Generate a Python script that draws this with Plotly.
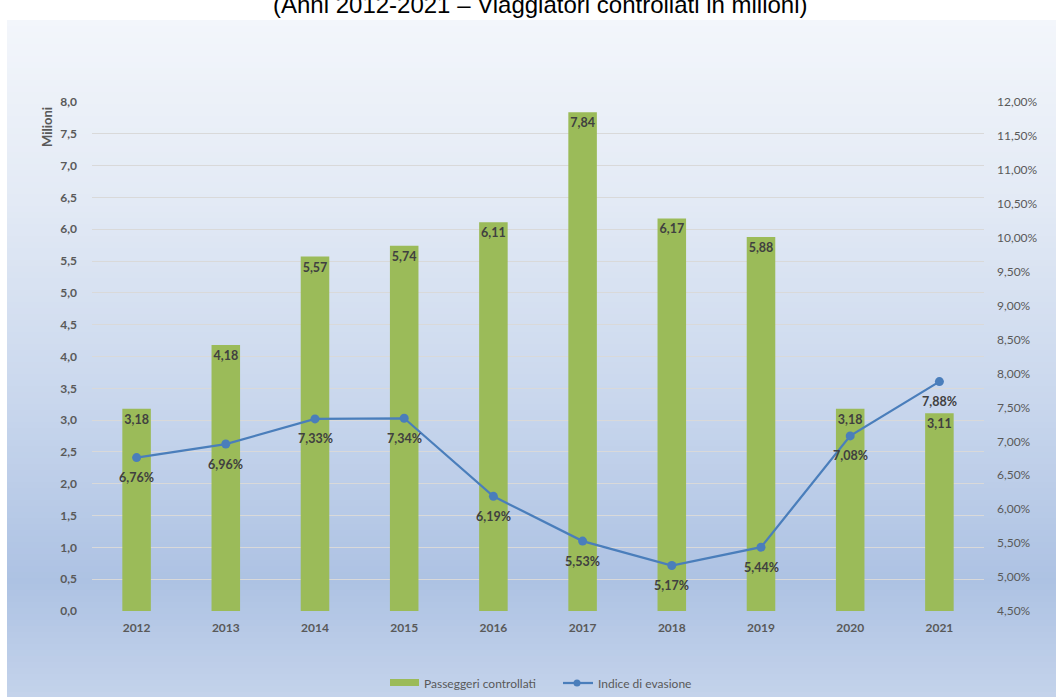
import plotly.graph_objects as go

# Chart data
years = ["2012", "2013", "2014", "2015", "2016", "2017", "2018", "2019", "2020", "2021"]
passeggeri = [3.18, 4.18, 5.57, 5.74, 6.11, 7.84, 6.17, 5.88, 3.18, 3.11]
indice_evasione = [6.76, 6.96, 7.33, 7.34, 6.19, 5.53, 5.17, 5.44, 7.08, 7.88]

W, H = 1056, 697
ML, MR, MT, MB = 92, 72, 102, 86
PW, PH = W - ML - MR, H - MT - MB

def px_x(px):
    return (px - ML) / PW

def px_y(py):
    return (H - MB - py) / PH

def it_num(v, dec):
    return f"{v:.{dec}f}".replace(".", ",")

GREEN = "#9bbb59"
BLUE = "#4a7ebb"
TXT = "#404040"
AX = "#595959"
FONT = "Lato, 'Open Sans', sans-serif"

fig = go.Figure()

fig.add_trace(go.Bar(
    x=years, y=passeggeri, name="Passeggeri controllati",
    marker=dict(color=GREEN, line=dict(width=0)),
    width=0.32,
    text=[it_num(v, 2) for v in passeggeri],
    textposition="inside", insidetextanchor="end", textangle=0,
    textfont=dict(family=FONT, size=12.5, color=TXT, weight="bold"),
    constraintext="none",
    yaxis="y", showlegend=False,
))

fig.add_trace(go.Scatter(
    x=years, y=[v / 100 for v in indice_evasione], name="Indice di evasione",
    mode="lines+markers",
    line=dict(color=BLUE, width=2.25),
    marker=dict(color=BLUE, size=9),
    yaxis="y2", showlegend=False,
))

annotations = []
# Percentage labels under each point of the line (category index on x)
for i, v in enumerate(indice_evasione):
    annotations.append(dict(
        x=i, y=v / 100, xref="x", yref="y2", text=it_num(v, 2) + "%",
        showarrow=False, yshift=-20, xanchor="center", yanchor="middle",
        font=dict(family=FONT, size=12.5, color=TXT, weight="bold"),
    ))

# Gradient backdrop built from thin horizontal strips
stops = [(20, (243, 246, 251)), (200, (227, 234, 245)), (400, (201, 215, 237)),
         (580, (173, 194, 227)), (697, (196, 211, 235))]

def color_at(py):
    for (y0, c0), (y1, c1) in zip(stops[:-1], stops[1:]):
        if y0 <= py <= y1:
            t = (py - y0) / (y1 - y0)
            return "rgb(%d,%d,%d)" % tuple(round(a + (b - a) * t) for a, b in zip(c0, c1))
    return "rgb(%d,%d,%d)" % stops[-1][1]

shapes = []
step = 6
py = 20
while py < H:
    y_top = py
    y_bot = min(py + step + 1, H + 2)
    shapes.append(dict(
        type="rect", xref="paper", yref="paper", layer="below",
        x0=px_x(7), x1=px_x(W + 2), y0=px_y(y_bot), y1=px_y(y_top),
        fillcolor=color_at(py + step / 2), line=dict(width=0),
    ))
    py += step

# Legend drawn by hand: wide green swatch and line-with-marker sample
leg_y = 683
shapes.append(dict(type="rect", xref="paper", yref="paper",
                   x0=px_x(390), x1=px_x(419), y0=px_y(686), y1=px_y(679),
                   fillcolor=GREEN, line=dict(width=0)))
shapes.append(dict(type="line", xref="paper", yref="paper",
                   x0=px_x(563), x1=px_x(593), y0=px_y(leg_y), y1=px_y(leg_y),
                   line=dict(color=BLUE, width=2.25)))
shapes.append(dict(type="circle", xref="paper", yref="paper",
                   x0=px_x(573.5), x1=px_x(580.5), y0=px_y(leg_y + 3.5), y1=px_y(leg_y - 3.5),
                   fillcolor=BLUE, line=dict(width=0)))
annotations.append(dict(text="Passeggeri controllati", xref="paper", yref="paper",
                        x=px_x(422), y=px_y(leg_y), xanchor="left", yanchor="middle", showarrow=False,
                        font=dict(family=FONT, size=12, color=AX)))
annotations.append(dict(text="Indice di evasione", xref="paper", yref="paper",
                        x=px_x(596), y=px_y(leg_y), xanchor="left", yanchor="middle", showarrow=False,
                        font=dict(family=FONT, size=12, color=AX)))

# Axis title on the left
annotations.append(dict(text="Milioni", xref="paper", yref="paper", textangle=-90,
                        x=px_x(47), y=px_y(127), xanchor="center", yanchor="middle", showarrow=False,
                        font=dict(family=FONT, size=13, color=AX, weight="bold")))

# Heading
annotations.append(dict(
    text="(Anni 2012-2021 \u2013 Viaggiatori controllati in milioni)",
    xref="paper", yref="paper", x=px_x(540), y=px_y(20), xanchor="center", yanchor="bottom",
    showarrow=False, font=dict(family="Liberation Sans, Arial, sans-serif", size=24, color="#000000"),
))

fig.update_layout(
    width=W, height=H,
    margin=dict(l=ML, r=MR, t=MT, b=MB, autoexpand=False),
    paper_bgcolor="white", plot_bgcolor="rgba(0,0,0,0)",
    separators=",.",
    font=dict(family=FONT, size=11, color=AX),
    shapes=shapes,
    annotations=annotations,
    showlegend=False,
    xaxis=dict(type="category", range=[-0.5, len(years) - 0.5], autorange=False,
               showgrid=False, zeroline=False, showline=False,
               ticks="", ticklabelstandoff=8,
               tickfont=dict(family=FONT, size=12, color=AX, weight="bold")),
    yaxis=dict(range=[0, 8], dtick=0.5, tickformat=".1f", showgrid=True, gridcolor="#d9d9d9",
               gridwidth=1, zeroline=False, showline=False, ticks="",
               ticklabelstandoff=14,
               tickfont=dict(family=FONT, size=12, color=AX, weight="bold")),
    yaxis2=dict(range=[0.045, 0.12], dtick=0.005, tickformat=".2%", overlaying="y", side="right",
                showgrid=False, zeroline=False, showline=False, ticks="",
                ticklabelstandoff=12,
                tickfont=dict(family=FONT, size=12, color=AX)),
)

fig.write_html("out.html")
